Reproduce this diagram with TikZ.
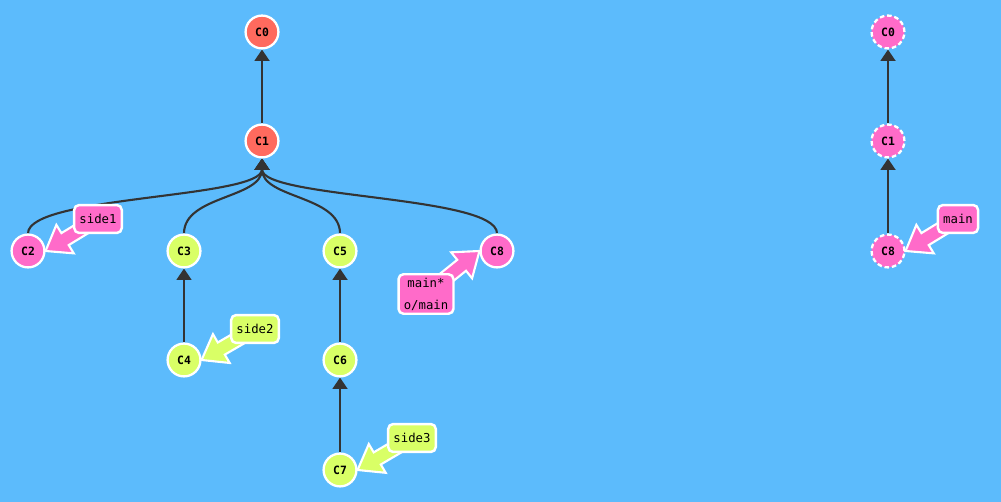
\documentclass[tikz,border=0pt]{standalone}
\usepackage{fontspec}
\setmonofont{DejaVu Sans Mono}
\usetikzlibrary{arrows.meta,calc}
\definecolor{Sky}{HTML}{5CBBFC}
\definecolor{Ink}{HTML}{333333}
\definecolor{Tomato}{HTML}{FF6A5E}
\definecolor{Pink}{HTML}{FF6BC9}
\definecolor{Lime}{HTML}{D9FF66}
\pgfdeclarelayer{back}
\pgfdeclarelayer{links}
\pgfdeclarelayer{ptrs}
\pgfdeclarelayer{tags}
\pgfsetlayers{back,links,main,ptrs,tags}
\tikzset{
  cmt/.style={circle, draw=white, line width=1.3pt, minimum size=18.7pt, inner sep=0pt,
              font=\ttfamily\bfseries\fontsize{6.5}{7}\selectfont},
  cmtred/.style={cmt, fill=Tomato},
  cmtpink/.style={cmt, fill=Pink},
  cmtgreen/.style={cmt, fill=Lime},
  ghost/.style={cmtpink, dash pattern=on 2.6pt off 1.6pt},
  tagbox/.style={draw=white, line width=1.4pt, rounded corners=2.8pt, align=center,
                 inner xsep=3pt, inner ysep=2pt, minimum height=15.9pt,
                 font=\ttfamily\fontsize{7}{12.5}\selectfont},
  tagpink/.style={tagbox, fill=Pink},
  taggreen/.style={tagbox, fill=Lime},
  edge/.style={-{Triangle[length=6.5pt,width=8.5pt]}, line width=1.2pt, draw=Ink},
  ptr/.style={draw=white, line width=1.2pt, line join=miter},
}
% fat pointer from a branch tag to its commit: tag, tip, colour
\newcommand{\branchptr}[3]{%
  \coordinate (neck) at ($(#2)!13pt!(#1)$);
  \filldraw[ptr, fill=#3] ($(#1)!4pt!90:(#2)$) -- ($(neck)!4pt!-90:(#1)$)
    -- ($(neck)!9.5pt!-90:(#1)$) -- (#2) -- ($(neck)!9.5pt!90:(#1)$)
    -- ($(neck)!4pt!90:(#1)$) -- ($(#1)!4pt!-90:(#2)$) -- cycle;
}

\begin{document}
\begin{tikzpicture}[x=0.02cm, y=-0.02cm]
  \useasboundingbox (0,0) rectangle (1001,502);
  \begin{pgfonlayer}{back}
    \fill[Sky] (0,0) rectangle (1001,502);
  \end{pgfonlayer}

  % left tree
  \node[cmtred] (C0) at (262,32) {C0};
  \node[cmtred] (C1) at (262,141) {C1};
  \node[cmtpink] (C2) at (28,251) {C2};
  \node[cmtgreen] (C3) at (184,251) {C3};
  \node[cmtgreen] (C4) at (184,360) {C4};
  \node[cmtgreen] (C5) at (340,251) {C5};
  \node[cmtgreen] (C6) at (340,360) {C6};
  \node[cmtgreen] (C7) at (340,470) {C7};
  \node[cmtpink] (C8) at (497,251) {C8};

  % right tree
  \node[ghost] (R0) at (888,32) {C0};
  \node[ghost] (R1) at (888,141) {C1};
  \node[ghost] (R8) at (888,251) {C8};

  \begin{pgfonlayer}{tags}
    \node[tagpink] (side1) at (98,219) {side1};
    \node[taggreen] (side2) at (255,329) {side2};
    \node[taggreen] (side3) at (412,438) {side3};
    \node[tagpink] (main) at (426,294) {main*\\o/main};
    \node[tagpink] (rmain) at (958,219) {main};
  \end{pgfonlayer}

  \begin{pgfonlayer}{links}
    \draw[edge] (C1) -- (C0);
    \draw[edge] (C2.north) .. controls +(0,-38) and +(0,40) .. (C1.south);
    \draw[edge] (C3.north) .. controls +(0,-38) and +(0,40) .. (C1.south);
    \draw[edge] (C5.north) .. controls +(0,-38) and +(0,40) .. (C1.south);
    \draw[edge] (C8.north) .. controls +(0,-38) and +(0,40) .. (C1.south);
    \draw[edge] (C4) -- (C3);
    \draw[edge] (C6) -- (C5);
    \draw[edge] (C7) -- (C6);
    \draw[edge] (R1) -- (R0);
    \draw[edge] (R8) -- (R1);
  \end{pgfonlayer}

  \begin{pgfonlayer}{ptrs}
    \branchptr{side1}{C2.east}{Pink}
    \branchptr{side2}{C4.east}{Lime}
    \branchptr{side3}{C7.east}{Lime}
    \branchptr{main}{C8.west}{Pink}
    \branchptr{rmain}{R8.east}{Pink}
  \end{pgfonlayer}
\end{tikzpicture}
\end{document}
